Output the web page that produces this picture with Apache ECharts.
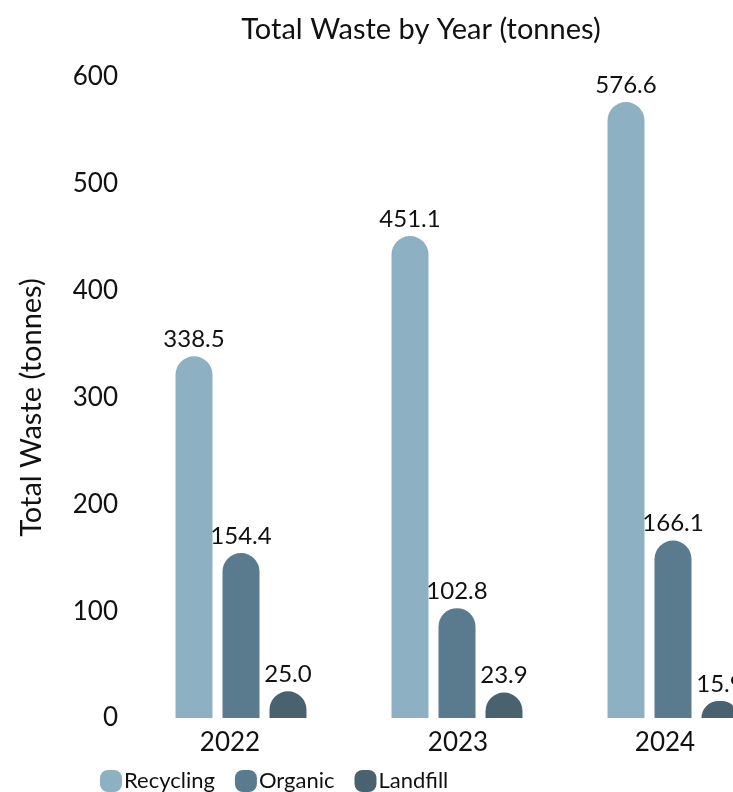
<!DOCTYPE html>
<html>
<head>
<meta charset="utf-8">
<script src="https://cdn.jsdelivr.net/npm/echarts@6/dist/echarts.min.js"></script>
<style>
html,body{margin:0;padding:0;overflow:hidden;background:#fff;}
#chart{width:842px;height:800px;}
</style>
</head>
<body>
<div id="chart"></div>
<script>
const categories = ['2022', '2023', '2024'];
const recycling = [338.5, 451.1, 576.6];
const organic = [154.4, 102.8, 166.1];
const landfill = [25.0, 23.9, 15.9];
const yTicks = [0, 100, 200, 300, 400, 500, 600];

const font = 'Lato';
const legendIcon = 'path://M8,0H14A8,8,0,0,1,22,8V14A8,8,0,0,1,14,22H8A8,8,0,0,1,0,14V8A8,8,0,0,1,8,0Z';
// small per-label horizontal nudges (style only)
const labelPads = [[0, 22, 0, 0], [0, 0, 0, 2], [0, 16, 0, 0]];
const chart = echarts.init(document.getElementById('chart'), null, {renderer: 'canvas'});
function barSeries(name, data, color) {
  return {
    name: name,
    type: 'bar',
    data: data,
    barWidth: 37,
    barGap: '27%',
    itemStyle: {color: color, borderRadius: [18.5, 18.5, 0, 0]},
    label: {
      show: true, position: 'top', distance: 5,
      fontFamily: font, fontSize: 24, color: '#111',
      formatter: p => p.value.toFixed(1)
    }
  };
}
chart.setOption({
  animation: false,
  title: {
    text: 'Total Waste by Year (tonnes)',
    left: 'center', top: 10,
    textStyle: {fontFamily: font, fontSize: 29, fontWeight: 'normal', color: '#111'}
  },
  grid: {left: 133, right: 61, top: 77, bottom: 82, containLabel: false},
  legend: {
    left: 95, top: 765,
    itemWidth: 22, itemHeight: 22, itemGap: 20,
    icon: legendIcon,
    textStyle: {fontFamily: font, fontSize: 22, color: '#111', padding: [0, 0, 0, -3]},
    data: ['Recycling', 'Organic', 'Landfill']
  },
  xAxis: {
    type: 'category',
    data: categories.map((c, i) => ({value: c, textStyle: {padding: labelPads[i]}})),
    axisLine: {show: false},
    axisTick: {show: false},
    axisLabel: {fontFamily: font, fontSize: 26, color: '#111', margin: 12}
  },
  yAxis: {
    type: 'value',
    min: yTicks[0], max: yTicks[yTicks.length - 1], interval: 100,
    name: 'Total Waste (tonnes)',
    nameLocation: 'middle', nameGap: 87, nameRotate: 90,
    nameTextStyle: {fontFamily: font, fontSize: 29, color: '#111', padding: [0, 20, 0, 0]},
    axisLine: {show: false},
    axisTick: {show: false},
    splitLine: {show: false},
    axisLabel: {fontFamily: font, fontSize: 26, color: '#111', margin: 15}
  },
  series: [
    barSeries('Recycling', recycling, '#8DB0C2'),
    barSeries('Organic', organic, '#5A7B8E'),
    barSeries('Landfill', landfill, '#4A6270')
  ]
});
</script>
</body>
</html>
